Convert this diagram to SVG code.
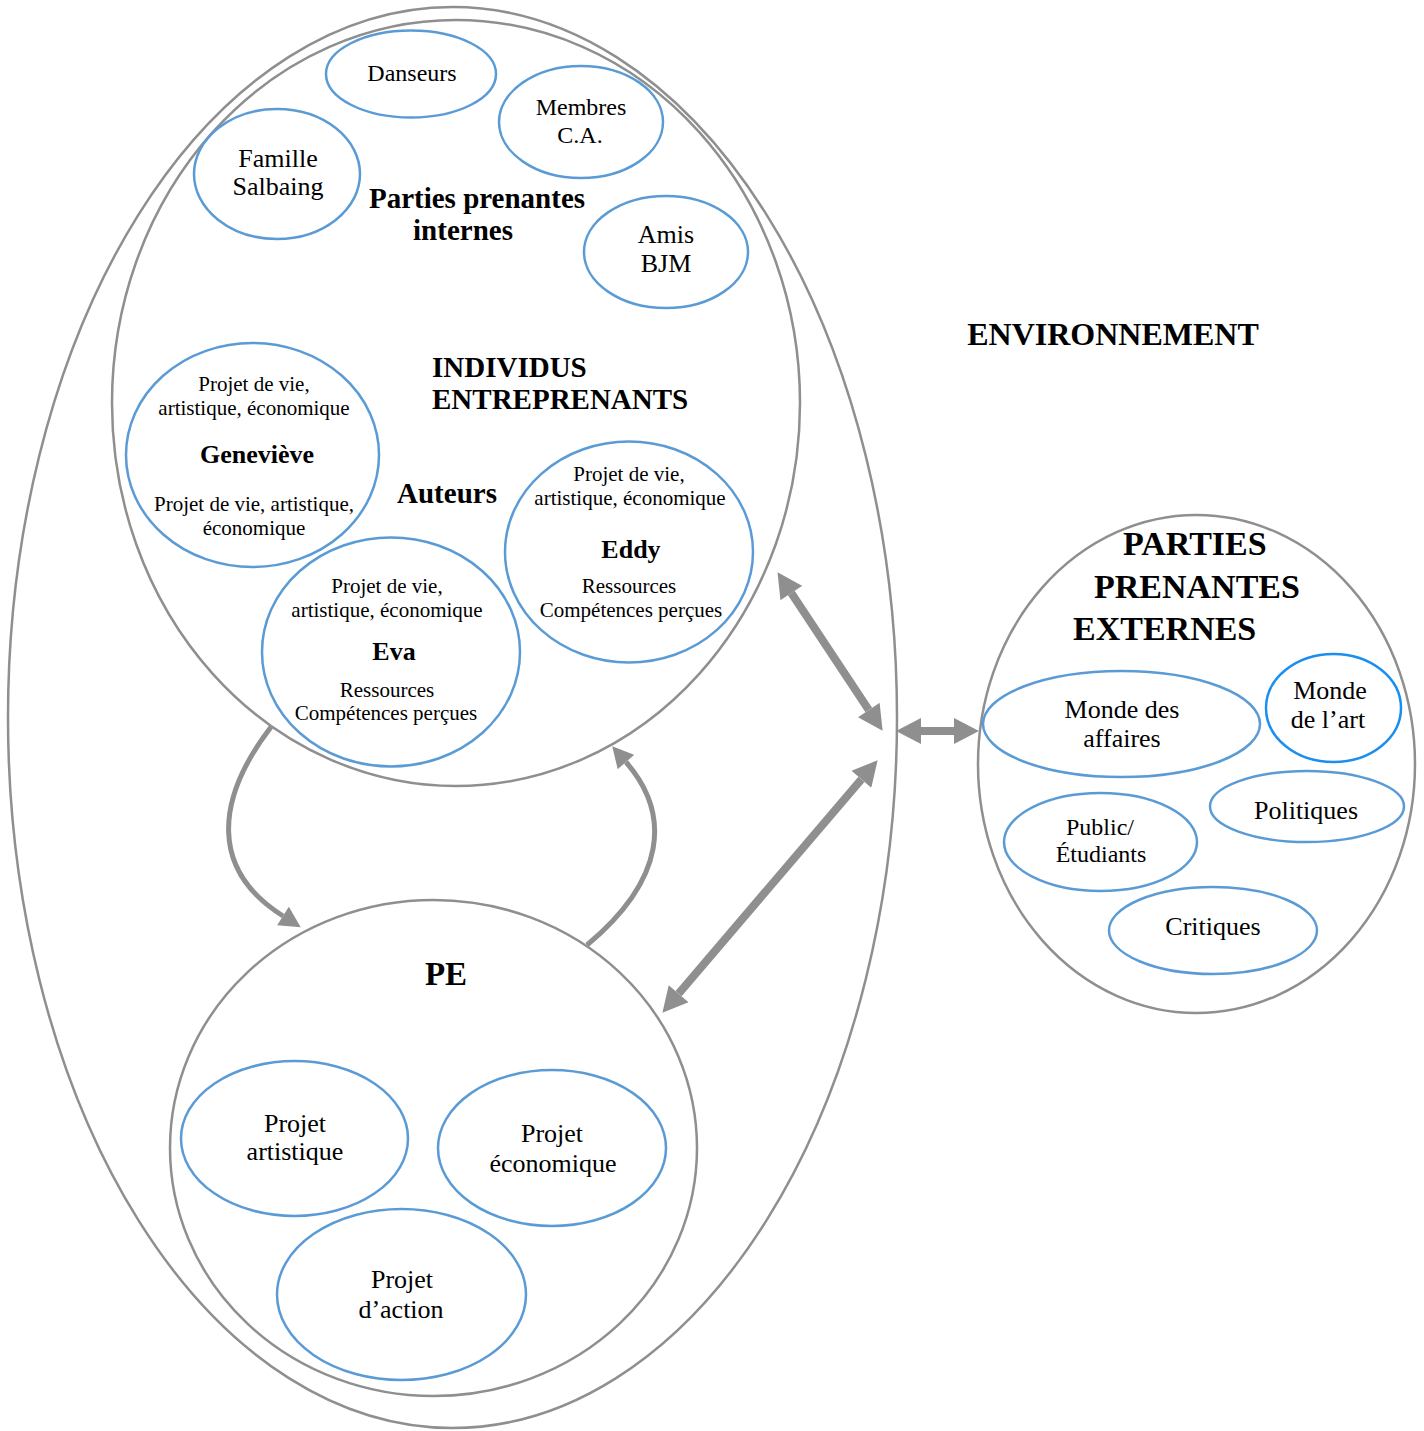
<svg xmlns="http://www.w3.org/2000/svg" width="1424" height="1431" viewBox="0 0 1424 1431">
<style>
  .gray { fill: none; stroke: #8f8f8f; stroke-width: 2.5; }
  .blue { fill: none; stroke: #5b9bd5; stroke-width: 2.5; }
  .blue2 { fill: none; stroke: #1a8ff0; stroke-width: 2.5; }
  text { font-family: "Liberation Serif", "Times New Roman", serif; fill: #000; text-anchor: middle; }
  .b { font-weight: bold; }
  .s21 { font-size: 21px; }
  .s24 { font-size: 24px; }
  .s26 { font-size: 26px; }
  .s29 { font-size: 29px; }
  .conn { fill: none; stroke: #8f8f8f; }
  .thick { stroke-width: 8; }
  .curve { stroke-width: 5; }
</style>
<defs>
  <marker id="head" markerUnits="userSpaceOnUse" markerWidth="26" markerHeight="26" viewBox="0 -13 25 26" refX="0" refY="0" orient="auto-start-reverse">
    <path d="M0,-13 L25,0 L0,13 z" fill="#8f8f8f"/>
  </marker>
  <marker id="headS" markerUnits="userSpaceOnUse" markerWidth="22" markerHeight="22" viewBox="0 -11 21 22" refX="0" refY="0" orient="auto">
    <path d="M0,-11 L21,0 L0,11 z" fill="#8f8f8f"/>
  </marker>
</defs>

<g id="environnement">
  <ellipse class="gray" cx="452.5" cy="717.5" rx="444.5" ry="710.5"/>
  <text class="b" x="1113" y="345" style="font-size:32px">ENVIRONNEMENT</text>
</g>

<g id="individus-entreprenants">
  <ellipse class="gray" cx="456" cy="403" rx="344" ry="383"/>
  <text class="b s29" x="432" y="377" style="text-anchor:start">INDIVIDUS</text>
  <text class="b s29" x="432" y="409" style="text-anchor:start">ENTREPRENANTS</text>
  <text class="b s29" x="477" y="208">Parties prenantes</text>
  <text class="b s29" x="463" y="240">internes</text>
  <text class="b s29" x="447" y="503">Auteurs</text>
</g>

<g id="danseurs">
  <ellipse class="blue" cx="411" cy="74" rx="85" ry="43.5"/>
  <text class="s24" x="412" y="81">Danseurs</text>
</g>
<g id="membres-ca">
  <ellipse class="blue" cx="581" cy="122" rx="82" ry="56"/>
  <text class="s24" x="581" y="115">Membres</text>
  <text class="s24" x="580" y="143">C.A.</text>
</g>
<g id="famille-salbaing">
  <ellipse class="blue" cx="277" cy="174" rx="83" ry="65"/>
  <text class="s26" x="278" y="167">Famille</text>
  <text class="s26" x="278" y="195">Salbaing</text>
</g>
<g id="amis-bjm">
  <ellipse class="blue" cx="666" cy="252" rx="82" ry="56"/>
  <text class="s26" x="666" y="243">Amis</text>
  <text class="s26" x="666" y="272">BJM</text>
</g>

<g id="genevieve">
  <ellipse class="blue" cx="252.5" cy="455" rx="126.5" ry="112"/>
  <text class="s21" x="254" y="391">Projet de vie,</text>
  <text class="s21" x="254" y="415">artistique, économique</text>
  <text class="b s26" x="257" y="463">Geneviève</text>
  <text class="s21" x="254" y="511">Projet de vie, artistique,</text>
  <text class="s21" x="254" y="535">économique</text>
</g>
<g id="eddy">
  <ellipse class="blue" cx="629" cy="552" rx="124" ry="110.5"/>
  <text class="s21" x="629" y="481">Projet de vie,</text>
  <text class="s21" x="630" y="505">artistique, économique</text>
  <text class="b s26" x="631" y="558">Eddy</text>
  <text class="s21" x="629" y="593">Ressources</text>
  <text class="s21" x="631" y="617">Compétences perçues</text>
</g>
<g id="eva">
  <ellipse class="blue" cx="391" cy="652" rx="129" ry="114.5"/>
  <text class="s21" x="387" y="593">Projet de vie,</text>
  <text class="s21" x="387" y="617">artistique, économique</text>
  <text class="b s26" x="394" y="660">Eva</text>
  <text class="s21" x="387" y="697">Ressources</text>
  <text class="s21" x="386" y="720">Compétences perçues</text>
</g>

<g id="pe">
  <ellipse class="gray" cx="433.5" cy="1148" rx="263.5" ry="248"/>
  <text class="b" x="446" y="985" style="font-size:33px">PE</text>
</g>
<g id="projet-artistique">
  <ellipse class="blue" cx="294.5" cy="1138.5" rx="113.5" ry="77.5"/>
  <text class="s26" x="295" y="1132">Projet</text>
  <text class="s26" x="295" y="1160">artistique</text>
</g>
<g id="projet-economique">
  <ellipse class="blue" cx="552" cy="1148" rx="114" ry="78"/>
  <text class="s26" x="552" y="1142">Projet</text>
  <text class="s26" x="553" y="1172">économique</text>
</g>
<g id="projet-action">
  <ellipse class="blue" cx="401.5" cy="1294.5" rx="124.5" ry="85.5"/>
  <text class="s26" x="402" y="1288">Projet</text>
  <text class="s26" x="401" y="1318">d’action</text>
</g>

<g id="parties-prenantes-externes">
  <ellipse class="gray" cx="1196.5" cy="764" rx="218.5" ry="249"/>
  <text class="b" x="1123" y="555" style="font-size:34px;text-anchor:start">PARTIES</text>
  <text class="b" x="1094" y="598" style="font-size:34px;text-anchor:start">PRENANTES</text>
  <text class="b" x="1073" y="640" style="font-size:34px;text-anchor:start">EXTERNES</text>
</g>
<g id="monde-affaires">
  <ellipse class="blue" cx="1121.5" cy="724" rx="138.5" ry="53"/>
  <text class="s26" x="1122" y="718">Monde des</text>
  <text class="s26" x="1122" y="747">affaires</text>
</g>
<g id="monde-art">
  <ellipse class="blue2" cx="1333.5" cy="708" rx="67.5" ry="54"/>
  <text class="s26" x="1330" y="699">Monde</text>
  <text class="s26" x="1328" y="728">de l’art</text>
</g>
<g id="politiques">
  <ellipse class="blue" cx="1307" cy="806.5" rx="97" ry="35.5"/>
  <text class="s26" x="1306" y="819">Politiques</text>
</g>
<g id="public-etudiants">
  <ellipse class="blue" cx="1100.5" cy="842" rx="96.5" ry="49"/>
  <text class="s24" x="1100" y="835">Public/</text>
  <text class="s24" x="1101" y="862">Étudiants</text>
</g>
<g id="critiques">
  <ellipse class="blue" cx="1213" cy="930.5" rx="104" ry="43.5"/>
  <text class="s26" x="1213" y="935">Critiques</text>
</g>

<g id="connectors">
  <line class="conn thick" x1="791.3" y1="593" x2="868.8" y2="710" marker-start="url(#head)" marker-end="url(#head)"/>
  <line class="conn thick" x1="921" y1="731" x2="954" y2="731" marker-start="url(#head)" marker-end="url(#head)"/>
  <line class="conn thick" x1="678.6" y1="993.7" x2="861.4" y2="779.3" marker-start="url(#head)" marker-end="url(#head)"/>
  <path class="conn curve" d="M271,727 C215,800 210,870 283,916" marker-end="url(#headS)"/>
  <path class="conn curve" d="M587,945 C665,880 672,815 626,762" marker-end="url(#headS)"/>
</g>
</svg>
